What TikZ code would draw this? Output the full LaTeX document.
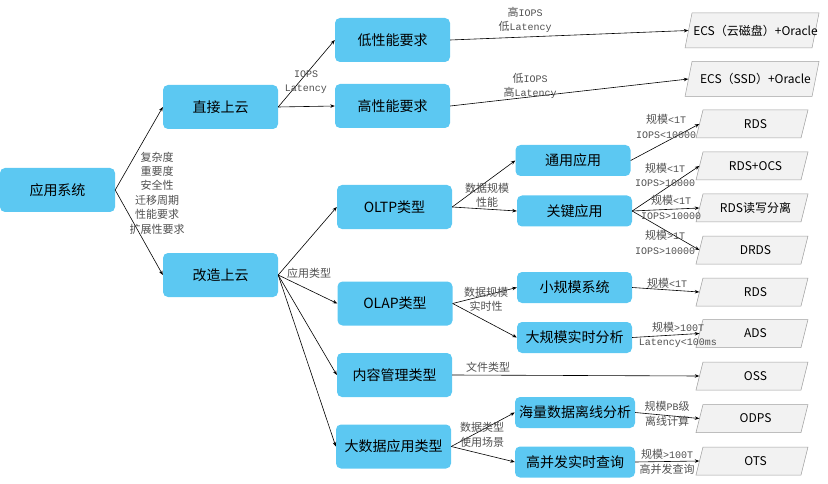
\documentclass[tikz,border=0pt]{standalone}
\usepackage{fontspec}
\usetikzlibrary{arrows.meta}
\newfontfamily\cjk{Noto Sans CJK SC}
\newfontfamily\monofnt{Liberation Mono}
\newcommand\mo[1]{{\monofnt\fontsize{10}{14.4}\selectfont #1}}
\definecolor{boxblue}{RGB}{92,200,242}
\definecolor{endgray}{RGB}{242,242,242}
\definecolor{endline}{RGB}{160,160,160}
\definecolor{labelgray}{RGB}{80,80,80}
\tikzset{
  bluebox/.style={fill=boxblue, rounded corners=5pt, minimum width=115pt, minimum height=44pt, inner sep=0pt, font=\cjk\fontsize{14}{16}\selectfont},
  smallbox/.style={bluebox, minimum width=115pt, minimum height=31pt},
  endpoly/.style={draw=endline, line width=0.5pt, fill=endgray},
  endtxt/.style={inner sep=0pt, font=\cjk\fontsize{12}{14}\selectfont},
  lbl/.style={font=\cjk\fontsize{11}{14.4}\selectfont, text=labelgray, align=center, inner sep=0pt},
  arr/.style={-{Stealth[length=4.5pt,width=3.5pt]}, line width=0.6pt}
}
% #1 name, #2 x, #3 y, #4 width, #5 height, #6 text
\newcommand\pbox[6]{%
  \draw[endpoly] (#2,#3) ++({-#4/2+3.5},{-#5/2}) -- ++({#4-7},0) -- ++(-7,#5) -- ++({-#4+7},0) -- cycle;
  \node[endtxt, minimum width=#4pt, minimum height=#5pt] (#1) at (#2,#3) {#6};}
\begin{document}
\begin{tikzpicture}[x=1pt,y=-1pt]
\useasboundingbox (0,0) rectangle (828,484);
% blue boxes
\node[bluebox] (app) at (57.5,190) {应用系统};
\node[bluebox] (direct) at (220.5,107) {直接上云};
\node[bluebox] (reform) at (220.5,275) {改造上云};
\node[bluebox] (low) at (392.5,40) {低性能要求};
\node[bluebox] (high) at (392.5,106) {高性能要求};
\node[bluebox] (oltp) at (394.5,207) {OLTP类型};
\node[bluebox] (olap) at (395,303.5) {OLAP类型};
\node[bluebox] (cms) at (394.5,375) {内容管理类型};
\node[bluebox] (bigdata) at (393.5,446.5) {大数据应用类型};
\node[smallbox] (general) at (573,160.5) {通用应用};
\node[smallbox] (key) at (574.5,211) {关键应用};
\node[smallbox] (small) at (574.5,287.5) {小规模系统};
\node[smallbox] (large) at (574.5,337.5) {大规模实时分析};
\node[smallbox, minimum width=120pt] (massive) at (575,412.5) {海量数据离线分析};
\node[smallbox, minimum width=120pt] (hconc) at (575,462) {高并发实时查询};
% end boxes
\pbox{ecs1}{755.5}{30.5}{134}{35}{ECS（云磁盘）+Oracle}
\pbox{ecs2}{755.5}{79}{134}{35}{ECS（SSD）+Oracle}
\pbox{rds1}{755.5}{124}{112}{28}{RDS}
\pbox{rdsocs}{755.5}{166}{112}{28}{RDS+OCS}
\pbox{rdsrw}{755.5}{208}{112}{28}{RDS读写分离}
\pbox{drds}{755.5}{250}{112}{28}{DRDS}
\pbox{rds2}{755.5}{292}{112}{28}{RDS}
\pbox{ads}{755.5}{333.5}{112}{28}{ADS}
\pbox{oss}{755.5}{376}{112}{28}{OSS}
\pbox{odps}{755.5}{418.5}{112}{28}{ODPS}
\pbox{ots}{755.5}{461}{112}{28}{OTS}
% connectors
\draw[arr] (app.east) -- (direct.west);
\draw[arr] (app.east) -- (reform.west);
\draw[arr] (direct.east) -- (low.west);
\draw[arr] (direct.east) -- (high.west);
\draw[arr] (low.east) -- (ecs1.west);
\draw[arr] (high.east) -- (ecs2.west);
\draw[arr] (reform.east) -- (oltp.west);
\draw[arr] (reform.east) -- (olap.west);
\draw[arr] (reform.east) -- (cms.west);
\draw[arr] (reform.east) -- (bigdata.west);
\draw[arr] (oltp.east) -- (general.west);
\draw[arr] (oltp.east) -- (key.west);
\draw[arr] (general.east) -- (rds1.west);
\draw[arr] (key.east) -- (rdsocs.west);
\draw[arr] (key.east) -- (rdsrw.west);
\draw[arr] (key.east) -- (drds.west);
\draw[arr] (olap.east) -- (small.west);
\draw[arr] (olap.east) -- (large.west);
\draw[arr] (small.east) -- (rds2.west);
\draw[arr] (large.east) -- (ads.west);
\draw[arr] (cms.east) -- (oss.west);
\draw[arr] (bigdata.east) -- (massive.west);
\draw[arr] (bigdata.east) -- (hconc.west);
\draw[arr] (massive.east) -- (odps.west);
\draw[arr] (hconc.east) -- (ots.west);
% labels
\node[lbl] (l1) at (157,193) {复杂度\\重要度\\安全性\\迁移周期\\性能要求\\扩展性要求};
\node[lbl] (l2) at (306,82) {\mo{IOPS}\\\mo{Latency}};
\node[lbl] (l3) at (525,20) {高\mo{IOPS}\\低\mo{Latency}};
\node[lbl] (l4) at (530,86) {低\mo{IOPS}\\高\mo{Latency}};
\node[lbl] (l5) at (309,273) {应用类型};
\node[lbl] (l6) at (487,195.5) {数据规模\\性能};
\node[lbl] (l7) at (666,126.5) {规模\mo{<1T}\\\mo{IOPS<10000}};
\node[lbl] (l8) at (665,175) {规模\mo{<1T}\\\mo{IOPS>10000}};
\node[lbl] (l9) at (671,207.5) {规模\mo{<1T}\\\mo{IOPS>10000}};
\node[lbl] (l10) at (665,242.5) {规模\mo{>1T}\\\mo{IOPS>10000}};
\node[lbl] (l11) at (486,299.5) {数据规模\\实时性};
\node[lbl] (l12) at (667,283) {规模\mo{<1T}};
\node[lbl] (l13) at (678,335) {规模\mo{>100T}\\\mo{Latency<100ms}};
\node[lbl] (l14) at (488,367) {文件类型};
\node[lbl] (l15) at (482,435) {数据类型\\使用场景};
\node[lbl] (l16) at (667,414) {规模\mo{PB}级\\离线计算};
\node[lbl] (l17) at (667,462) {规模\mo{>100T}\\高并发查询};
\end{tikzpicture}
\end{document}
